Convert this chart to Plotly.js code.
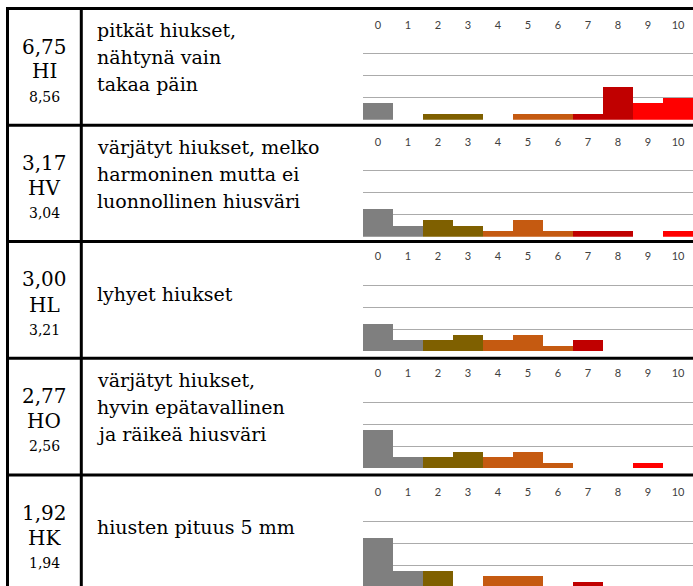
<!DOCTYPE html>
<html>
<head>
<meta charset="utf-8">
<script src="https://cdn.plot.ly/plotly-3.0.1.min.js"></script>
<style>
html,body{margin:0;padding:0;background:#fff;}
#chart{width:693px;height:586px;}
</style>
</head>
<body>
<div id="chart"></div>
<script>
// ---- data ----
const scores = [0, 1, 2, 3, 4, 5, 6, 7, 8, 9, 10];
const tickLabels = ['0', '1', '2', '3', '4', '5', '6', '7', '8', '9', '10'];
const countsHI = [3, 0, 1, 1, 0, 1, 1, 1, 6, 3, 4];
const countsHV = [5, 2, 3, 2, 1, 3, 1, 1, 1, 0, 1];
const countsHL = [5, 2, 2, 3, 2, 3, 1, 2, 0, 0, 0];
const countsHO = [7, 2, 2, 3, 2, 3, 1, 0, 0, 1, 0];
const countsHK = [9, 3, 3, 0, 2, 2, 0, 1, 0, 0, 0];
const meanValues = ['6,75', '3,17', '3,00', '2,77', '1,92'];
const codes = ['HI', 'HV', 'HL', 'HO', 'HK'];
const subValues = ['8,56', '3,04', '3,21', '2,56', '1,94'];
const descriptions = [
  ['pitkät hiukset,', 'nähtynä vain', 'takaa päin'],
  ['värjätyt hiukset, melko', 'harmoninen mutta ei', 'luonnollinen hiusväri'],
  ['lyhyet hiukset'],
  ['värjätyt hiukset,', 'hyvin epätavallinen', 'ja räikeä hiusväri'],
  ['hiusten pituus 5 mm']
];
const allCounts = [countsHI, countsHV, countsHL, countsHO, countsHK];

// ---- style / layout geometry (pixels) ----
const W = 693, H = 586;
const barColors = ['#7F7F7F', '#7F7F7F', '#7F6000', '#7F6000', '#C55A11', '#C55A11', '#C55A11', '#C00000', '#C00000', '#FF0000', '#FF0000'];
const rowTops = [8.5, 125.3, 241.5, 358.2, 475];
const baselines = [119.8, 236.8, 351, 468, 587];
const pxPerUnit = 5.5;
const rangeTop = 16;
const chartLeft = 363;
const px2x = p => p / W;
const px2y = p => 1 - p / H;

const traces = [];
const layout = {
  width: W, height: H,
  margin: {l: 0, r: 0, t: 0, b: 0, pad: 0},
  paper_bgcolor: '#ffffff', plot_bgcolor: 'rgba(0,0,0,0)',
  showlegend: false,
  bargap: 0,
  shapes: [], annotations: []
};

allCounts.forEach((counts, i) => {
  const n = i === 0 ? '' : String(i + 1);
  traces.push({
    type: 'bar', x: scores, y: counts,
    xaxis: 'x' + n, yaxis: 'y' + n,
    marker: {color: barColors, line: {width: 0}},
    hoverinfo: 'x+y'
  });
  const bottomPx = Math.min(baselines[i], H);
  const rMin = (baselines[i] - bottomPx) / pxPerUnit;
  const topPx = baselines[i] - rangeTop * pxPerUnit;
  layout['xaxis' + n] = {
    domain: [px2x(chartLeft), 1], range: [-0.5, 10.5],
    anchor: 'y' + n, side: 'top',
    tickmode: 'array', tickvals: scores, ticktext: tickLabels,
    ticks: '', showgrid: false, zeroline: false, showline: false,
    tickfont: {family: 'Lato, "Open Sans", sans-serif', size: 11, color: '#404040'},
    fixedrange: true
  };
  layout['yaxis' + n] = {
    domain: [px2y(bottomPx), px2y(topPx)], range: [rMin, rangeTop],
    anchor: 'x' + n,
    tickmode: 'array', tickvals: [4, 8, 12],
    showticklabels: false, ticks: '',
    showgrid: true, gridcolor: '#ABABAB', gridwidth: 1,
    zeroline: false, showline: false, fixedrange: true
  };

  // left column texts
  const T = rowTops[i];
  const cx = px2x(44);
  layout.annotations.push(
    {xref: 'paper', yref: 'paper', x: cx, y: px2y(T + 38), xanchor: 'center', yanchor: 'middle',
     text: meanValues[i], showarrow: false, font: {family: '"DejaVu Serif", serif', size: 20, color: '#000'}},
    {xref: 'paper', yref: 'paper', x: cx, y: px2y(T + 63), xanchor: 'center', yanchor: 'middle',
     text: codes[i], showarrow: false, font: {family: '"DejaVu Serif", serif', size: 20, color: '#000'}},
    {xref: 'paper', yref: 'paper', x: cx, y: px2y(T + 88), xanchor: 'center', yanchor: 'middle',
     text: subValues[i], showarrow: false, font: {family: '"DejaVu Serif", serif', size: 14, color: '#000'}}
  );
  // description lines
  const lines = descriptions[i];
  const firstCenter = lines.length === 1 ? 52 : 22;
  lines.forEach((ln, k) => {
    layout.annotations.push({
      xref: 'paper', yref: 'paper', x: px2x(95), y: px2y(T + firstCenter + 27 * k),
      xanchor: 'left', yanchor: 'middle', text: ln, showarrow: false,
      font: {family: '"DejaVu Serif", serif', size: 19, color: '#000'}
    });
  });
});

// table borders
const border = {color: '#000000', width: 3};
[8.5, 125.3, 241.5, 358.2, 475].forEach(py => {
  layout.shapes.push({type: 'line', xref: 'paper', yref: 'paper', x0: px2x(6), x1: 1, y0: px2y(py), y1: px2y(py), line: border, layer: 'above'});
});
[7.5, 81.3].forEach(px => {
  layout.shapes.push({type: 'line', xref: 'paper', yref: 'paper', x0: px2x(px), x1: px2x(px), y0: px2y(7), y1: 0, line: border, layer: 'above'});
});

Plotly.newPlot('chart', traces, layout, {staticPlot: true, displayModeBar: false});
</script>
</body>
</html>
